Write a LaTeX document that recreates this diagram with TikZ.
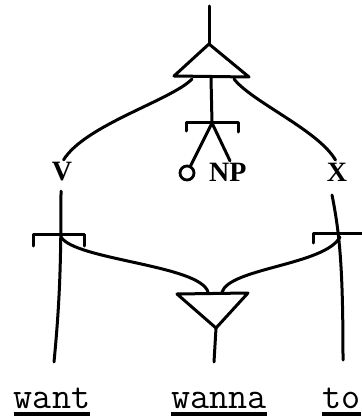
\documentclass[tikz,border=0pt]{standalone}
\usepackage{fontspec}
\newfontfamily\catfont{Liberation Serif}
\usetikzlibrary{positioning}

\begin{document}
\begin{tikzpicture}[
  x=1pt, y=-1pt,
  branch/.style={line width=3pt, line cap=round, line join=round},
  cat/.style={font=\catfont\bfseries\fontsize{28}{28}\selectfont, inner sep=0pt},
  word/.style={font=\ttfamily\fontsize{37}{37}\selectfont, inner sep=0pt, anchor=base},
  trace/.style={draw, circle, line width=2.8pt, minimum size=14pt, inner sep=0pt},
  underl/.style={line width=3.4pt}
]
\useasboundingbox (0,0) rectangle (361,417);
\coordinate (top) at (209,6);
\coordinate (apex) at (209,44);
\coordinate (capl) at (174,76);
\coordinate (capr) at (249,77);
\coordinate (capm) at (211,78);
\coordinate (basel) at (192,79);
\coordinate (baser) at (234,79);
\coordinate (fork) at (212,123);
\node[cat] (V) at (62,172) {V};
\node[cat] (X) at (337,172) {X};
\node[cat, anchor=west] (NP) at (209,172) {NP};
\node[trace] (gap) at (187,173) {};
\coordinate (vtop) at (61,191);
\coordinate (vjoin) at (61,237);
\coordinate (vfoot) at (54,362);
\coordinate (xtop) at (332,195);
\coordinate (xjoin) at (340,237);
\coordinate (xfoot) at (343,360);
\coordinate (cupl) at (177,294);
\coordinate (cupr) at (248,293);
\coordinate (cupt) at (216,328);
\coordinate (cupin) at (208,292);
\coordinate (cupinr) at (222,292);
\coordinate (wfoot) at (214,362);
\node[word] (want) at (52,408) {want};
\node[word] (wanna) at (219,408) {wanna};
\node[word, anchor=base west] (to) at (322,408) {to};
\draw[branch] (top) -- (apex);
\draw[branch] (apex) -- (capl) -- (capr) -- cycle;
\draw[branch] (capm) -- (fork);
\draw[branch] (186,131) -- (186,122) -- (238,122) -- (238,132);
\draw[branch] (fork) -- (gap);
\draw[branch, shorten >=2pt] (fork) -- ([xshift=3pt]NP.north);
\draw[branch, shorten >=3pt] (basel) .. controls (172,100) and (85,125) .. (V.north);
\draw[branch, shorten >=3pt] (baser) .. controls (252,102) and (318,130) .. (X.north);
\draw[branch] (vtop) .. controls (61,260) and (60,300) .. (vfoot);
\draw[branch] (33,246) -- (33,234) -- (84,234) -- (84,246);
\draw[branch] (vjoin) .. controls (75,260) and (200,265) .. (cupin);
\draw[branch] (xtop) .. controls (340,235) and (343,270) .. (xfoot);
\draw[branch] (313,243) -- (313,233) -- (365,233);
\draw[branch] (xjoin) .. controls (325,265) and (230,268) .. (cupinr);
\draw[branch] (cupl) -- (cupr) -- (cupt) -- cycle;
\draw[branch] (cupt) -- (wfoot);
\draw[underl] ([yshift=-6pt]want.base west) -- ([yshift=-6pt]want.base east);
\draw[underl] ([yshift=-6pt]wanna.base west) -- ([yshift=-6pt]wanna.base east);
\draw[underl] ([yshift=-6pt]to.base west) -- ([yshift=-6pt]to.base east);
\end{tikzpicture}
\end{document}
